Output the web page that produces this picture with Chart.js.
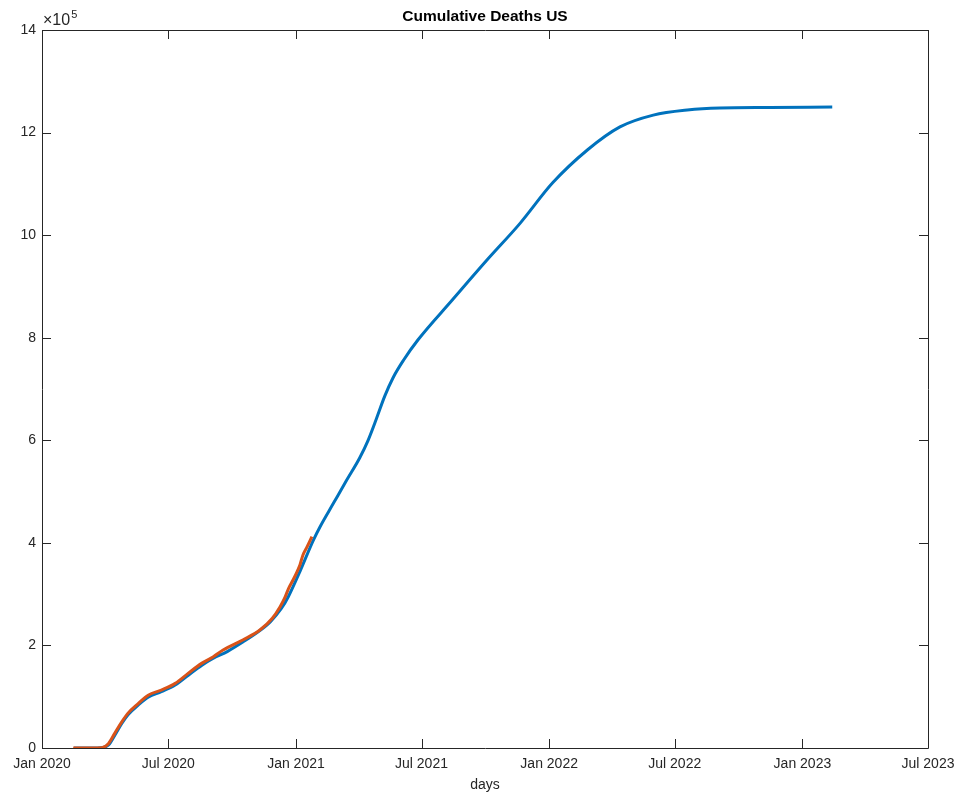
<!DOCTYPE html>
<html>
<head>
<meta charset="utf-8">
<script src="https://cdn.jsdelivr.net/npm/chart.js@4"></script>
<style>
        html, body { margin: 0; padding: 0; background: #fff; }
        #wrap { width: 960px; height: 798px; }
</style>
</head>
<body>
<div id="wrap"><canvas id="chart_deaths"></canvas></div>
<script>
// x values are days since Jan 1 2020
var tick_days = [0, 182, 366, 547, 731, 912, 1096, 1277];
var tick_labels = ["Jan 2020", "Jul 2020", "Jan 2021", "Jul 2021", "Jan 2022", "Jul 2022", "Jan 2023", "Jul 2023"];
var y_ticks = [0, 200000, 400000, 600000, 800000, 1000000, 1200000, 1400000];

// model fit (blue)
var model_days = [46, 80, 88, 96, 105, 115, 124, 139, 153, 172, 192, 211, 230, 247, 267, 290, 314, 329, 345, 355,
        372, 391, 401, 420, 439, 458, 470, 482, 494, 506, 521, 542, 591, 641, 689, 736, 786, 833, 881, 930, 977, 1049, 1139];
var model_deaths = [0, 0, 1000, 6000, 25000, 48000, 65000, 84000, 99000, 110000, 123000, 142000, 161000, 175000, 188000, 207000, 229000, 246000, 272000, 295000,
        345000, 405000, 432000, 477000, 522000, 566000, 600000, 642000, 686000, 722000, 756000, 796000, 873000, 951000, 1023000, 1102000, 1166000, 1211000, 1234000, 1244000, 1248000, 1249000, 1250000];

// reported data (orange)
var data_days = [45, 70, 86, 96, 105, 115, 124, 139, 153, 172, 192, 211, 230, 247, 261, 290, 314, 332, 343, 350, 355, 362, 368, 372, 376, 382, 389];
var data_deaths = [0, 0, 500, 9000, 29000, 51000, 68000, 87000, 103000, 113000, 126000, 146000, 165000, 178000, 191000, 211000, 230000, 253000, 275000, 293000, 310000, 328000, 345000, 358000, 376000, 392000, 412000];

var font_family = '"Liberation Sans", Arial, Helvetica, sans-serif';
var ink = "#262626";

function to_points(xs, ys) {
        var pts = [];
        for (let i = 0; i < xs.length; i++) {
                pts.push({ x: xs[i], y: ys[i] });
        }
        return pts;
}

// box, inward ticks, title and exponent label, MATLAB style
var matlab_axes = {
        id: "matlab_axes",
        afterDatasetsDraw(chart) {
                var ctx = chart.ctx;
                var a = chart.chartArea;
                var xs = chart.scales.x;
                var ys = chart.scales.y;
                var tl = 9;
                ctx.save();
                ctx.strokeStyle = ink;
                ctx.lineWidth = 1;
                ctx.beginPath();
                ctx.rect(Math.round(a.left) + 0.5, Math.round(a.top) + 0.5, Math.round(a.right - a.left), Math.round(a.bottom - a.top));
                ctx.stroke();
                ctx.beginPath();
                tick_days.forEach(function(d) {
                        var px = Math.round(xs.getPixelForValue(d)) + 0.5;
                        ctx.moveTo(px, a.bottom);
                        ctx.lineTo(px, a.bottom - tl);
                        ctx.moveTo(px, a.top);
                        ctx.lineTo(px, a.top + tl);
                });
                y_ticks.forEach(function(v) {
                        var py = Math.round(ys.getPixelForValue(v)) + 0.5;
                        ctx.moveTo(a.left, py);
                        ctx.lineTo(a.left + tl, py);
                        ctx.moveTo(a.right, py);
                        ctx.lineTo(a.right - tl, py);
                });
                ctx.stroke();

                ctx.fillStyle = "#000";
                ctx.font = "bold 15.5px " + font_family;
                ctx.textAlign = "center";
                ctx.textBaseline = "middle";
                ctx.fillText("Cumulative Deaths US", (a.left + a.right) / 2, 17);

                ctx.fillStyle = ink;
                ctx.textAlign = "left";
                ctx.textBaseline = "alphabetic";
                ctx.font = "16px " + font_family;
                ctx.fillText("\u00d710", a.left + 1, 25);
                var w = ctx.measureText("\u00d710").width;
                ctx.font = "11px " + font_family;
                ctx.fillText("5", a.left + w + 2, 18);
                ctx.restore();
        }
};

new Chart("chart_deaths", {
        type: "line",
        data: {
                datasets: [{
                        data: to_points(data_days, data_deaths),
                        borderColor: "#D95319",
                        borderWidth: 3,
                        pointRadius: 0,
                        fill: false,
                        cubicInterpolationMode: "monotone"
                }, {
                        data: to_points(model_days, model_deaths),
                        borderColor: "#0072BD",
                        borderWidth: 3,
                        pointRadius: 0,
                        fill: false,
                        cubicInterpolationMode: "monotone"
                }]
        },
        options: {
                responsive: true,
                maintainAspectRatio: false,
                animation: false,
                layout: { padding: { top: 30, right: 32, left: 0, bottom: 0 } },
                plugins: {
                        legend: { display: false },
                        tooltip: { enabled: false }
                },
                scales: {
                        x: {
                                type: "linear",
                                min: 0,
                                max: 1277,
                                afterBuildTicks: function(scale) {
                                        scale.ticks = tick_days.map(function(d) { return { value: d }; });
                                },
                                afterFit: function(scale) {
                                        scale.height = 50;
                                        scale.paddingLeft = 0;
                                        scale.paddingRight = 0;
                                },
                                grid: { display: false, drawTicks: false },
                                border: { display: false },
                                ticks: {
                                        maxRotation: 0,
                                        autoSkip: false,
                                        padding: 8,
                                        color: ink,
                                        font: { family: font_family, size: 14 },
                                        callback: function(v) {
                                                var i = tick_days.indexOf(v);
                                                return i >= 0 ? tick_labels[i] : "";
                                        }
                                },
                                title: {
                                        display: true,
                                        text: "days",
                                        color: ink,
                                        font: { family: font_family, size: 14 },
                                        padding: { top: 0, bottom: 4 }
                                }
                        },
                        y: {
                                min: 0,
                                max: 1400000,
                                afterBuildTicks: function(scale) {
                                        scale.ticks = y_ticks.map(function(v) { return { value: v }; });
                                },
                                afterFit: function(scale) { scale.width = 42; },
                                grid: { display: false, drawTicks: false },
                                border: { display: false },
                                ticks: {
                                        padding: 6,
                                        color: ink,
                                        font: { family: font_family, size: 14 },
                                        callback: function(v) { return String(v / 100000); }
                                }
                        }
                }
        },
        plugins: [matlab_axes]
});
</script>
</body>
</html>
